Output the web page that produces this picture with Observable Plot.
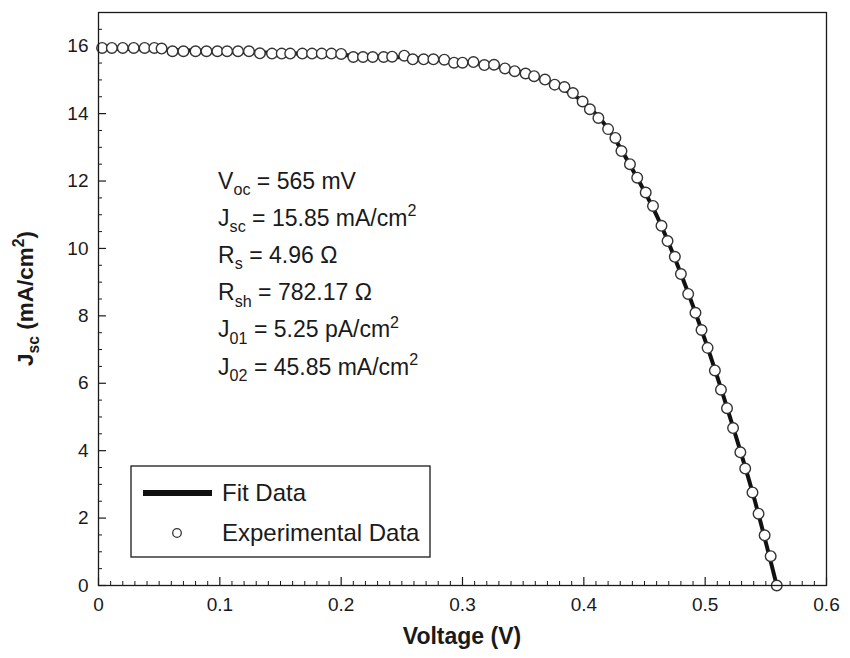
<!DOCTYPE html>
<html><head><meta charset="utf-8">
<script src="https://cdn.jsdelivr.net/npm/d3@7"></script>
<script src="https://cdn.jsdelivr.net/npm/@observablehq/plot@0.6"></script>
<style>html,body{margin:0;padding:0;background:#fff;}#chart svg{display:block;}</style>
</head><body><div id="chart"></div>
<script>
const expV = [0.003,0.011,0.020,0.029,0.038,0.046,0.052,0.061,0.070,0.080,0.089,0.098,0.106,0.115,0.124,0.133,0.143,0.151,0.158,0.168,0.176,0.184,0.192,0.200,0.210,0.218,0.226,0.235,0.242,0.252,0.259,0.268,0.276,0.285,0.293,0.300,0.309,0.318,0.326,0.335,0.343,0.352,0.359,0.368,0.376,0.384,0.391,0.399,0.405,0.412,0.420,0.426,0.431,0.438,0.444,0.451,0.457,0.464,0.469,0.475,0.480,0.486,0.492,0.497,0.502,0.508,0.513,0.518,0.523,0.529,0.533,0.539,0.544,0.549,0.554,0.559];
const expJ = [15.95,15.95,15.95,15.95,15.95,15.95,15.93,15.85,15.85,15.85,15.85,15.85,15.85,15.85,15.85,15.79,15.78,15.78,15.78,15.78,15.78,15.78,15.78,15.77,15.68,15.68,15.68,15.68,15.69,15.72,15.61,15.61,15.61,15.60,15.51,15.51,15.53,15.44,15.45,15.34,15.26,15.19,15.11,15.01,14.86,14.79,14.61,14.36,14.13,13.87,13.54,13.28,12.89,12.50,12.10,11.66,11.26,10.67,10.22,9.75,9.24,8.65,8.09,7.58,7.05,6.38,5.81,5.26,4.67,3.95,3.47,2.76,2.13,1.49,0.87,0.0];
// Fit curve
const fitV = [0,0.05,0.10,0.15,0.20,0.25,0.28,0.31,0.34,0.36,0.38,0.40,0.42,0.44,0.46,0.48,0.50,0.52,0.54,0.559];
const fitJ = [15.93,15.90,15.85,15.80,15.74,15.67,15.60,15.50,15.31,15.10,14.78,14.33,13.55,12.35,10.98,9.25,7.27,5.05,2.64,0];
// Axis ticks
const xTicks = [0,0.1,0.2,0.3,0.4,0.5,0.6];
const xTickLabels = ["0","0.1","0.2","0.3","0.4","0.5","0.6"];
const yTicks = [0,2,4,6,8,10,12,14,16];
const yTickLabels = ["0","2","4","6","8","10","12","14","16"];
const xMinor = d3.range(0, 61).map(i => i/100).filter(v => Math.round(v*100) % 10 !== 0);
const yMinor = d3.range(0, 35).map(i => i/2).filter(v => v % 2 !== 0);
// Texts
const xTitle = [["Voltage (V)",""]];
const yTitle = [["J",""],["sc","sub"],[" (mA/cm",""],["2","sup"],[")",""]];
const annotations = [
  [["V",""],["oc","sub"],[" = 565 mV",""]],
  [["J",""],["sc","sub"],[" = 15.85 mA/cm",""],["2","sup"]],
  [["R",""],["s","sub"],[" = 4.96 \u03A9",""]],
  [["R",""],["sh","sub"],[" = 782.17 \u03A9",""]],
  [["J",""],["01","sub"],[" = 5.25 pA/cm",""],["2","sup"]],
  [["J",""],["02","sub"],[" = 45.85 mA/cm",""],["2","sup"]]
];
const legendLabels = ["Fit Data","Experimental Data"];

const expData = expV.map((v,i) => ({v, j: expJ[i]}));
const fitData = fitV.map((v,i) => ({v, j: fitJ[i]}));

const W = 850, H = 658;
const mL = 98, mR = 24, mT = 12, mB = 73;
const FONT = "'Liberation Sans', Arial, Helvetica, sans-serif";
const INK = "#1a1a1a";

const chart = Plot.plot({
  width: W, height: H,
  marginLeft: mL, marginRight: mR, marginTop: mT, marginBottom: mB,
  style: {fontFamily: FONT, color: INK, background: "#fff", overflow: "visible"},
  x: {domain: [0, 0.6], label: null},
  y: {domain: [0, 17], label: null},
  marks: [
    Plot.axisX(xTicks, {tickSize: -8, tickPadding: 20, fontSize: 19, stroke: INK, strokeWidth: 1.2,
      tickFormat: d => xTickLabels[xTicks.indexOf(d)], label: null}),
    Plot.axisX(xMinor, {tickSize: -4, tickFormat: () => "", stroke: INK, strokeWidth: 1, label: null}),
    Plot.axisY(yTicks, {tickSize: -8, tickPadding: 18, fontSize: 19, stroke: INK, strokeWidth: 1.2,
      tickFormat: d => yTickLabels[yTicks.indexOf(d)], label: null}),
    Plot.axisY(yMinor, {tickSize: -4, tickFormat: () => "", stroke: INK, strokeWidth: 1, label: null}),
    Plot.line(fitData, {x: "v", y: "j", stroke: "#111", strokeWidth: 4, curve: "monotone-x"}),
    Plot.dot(expData, {x: "v", y: "j", r: 5.3, fill: "white", stroke: "#333", strokeWidth: 1.4}),
    Plot.frame({stroke: INK, strokeWidth: 1.3})
  ]
});
document.getElementById("chart").appendChild(chart);

const svg = d3.select(chart);
const sx = chart.scale("x"), sy = chart.scale("y");

function rich(sel, parts, size) {
  let shift = 0;
  for (const [t, kind] of parts) {
    const target = kind === "sub" ? 0.28*size : kind === "sup" ? -0.42*size : 0;
    sel.append("tspan").attr("dy", target - shift)
      .attr("font-size", kind ? size*0.7 : size).text(t);
    shift = target;
  }
}

// Annotation block
const annX = sx.apply(0.099), annY0 = sy.apply(11.76), annStep = 37.2;
annotations.forEach((parts, i) => {
  const t = svg.append("text").attr("x", annX).attr("y", annY0 + i*annStep)
    .attr("text-anchor", "start").attr("font-family", FONT).attr("fill", INK);
  rich(t, parts, 23);
});

// Axis titles
const xt = svg.append("text").attr("x", (mL + W - mR)/2).attr("y", 644)
  .attr("text-anchor", "middle").attr("font-family", FONT).attr("font-weight", "bold").attr("fill", INK);
rich(xt, xTitle, 23);
const yt = svg.append("text").attr("transform", `translate(33,${(mT + H - mB)/2}) rotate(-90)`)
  .attr("text-anchor", "middle").attr("font-family", FONT).attr("font-weight", "bold").attr("fill", INK);
rich(yt, yTitle, 22.5);

// Legend
const lg = svg.append("g");
const lx = mL + 33, ly = 466, lw = 299, lh = 91;
lg.append("rect").attr("x", lx).attr("y", ly).attr("width", lw).attr("height", lh)
  .attr("fill", "white").attr("stroke", INK).attr("stroke-width", 1.3);
lg.append("line").attr("x1", lx + 12).attr("x2", lx + 81).attr("y1", ly + 27).attr("y2", ly + 27)
  .attr("stroke", "#111").attr("stroke-width", 6);
lg.append("circle").attr("cx", lx + 46).attr("cy", ly + 67).attr("r", 4.3)
  .attr("fill", "white").attr("stroke", "#333").attr("stroke-width", 1.3);
legendLabels.forEach((s, i) => {
  lg.append("text").attr("x", lx + 91).attr("y", ly + 27 + i*40).attr("dy", "0.35em")
    .attr("text-anchor", "start").attr("font-family", FONT).attr("font-size", 24).attr("fill", INK).text(s);
});
</script>
</body></html>
